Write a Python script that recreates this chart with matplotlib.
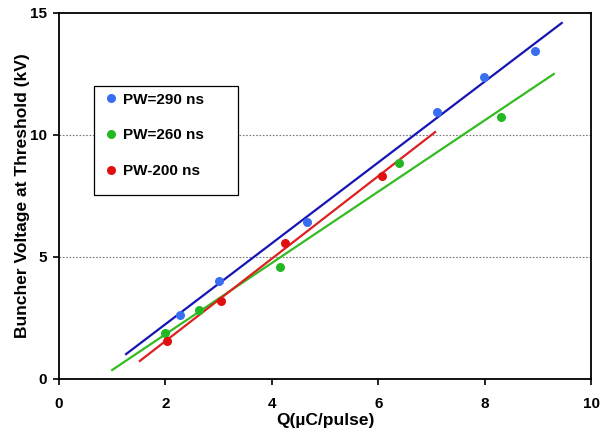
import matplotlib
matplotlib.use("Agg")
import matplotlib.pyplot as plt
from matplotlib.lines import Line2D
from matplotlib.patches import Rectangle

plt.rcParams['font.family'] = ['Liberation Sans', 'DejaVu Sans']
plt.rcParams['font.weight'] = 'bold'

# Data
pw290_x = [2.27, 3.0, 4.66, 7.1, 7.99, 8.95]
pw290_y = [2.62, 4.0, 6.43, 10.94, 12.38, 13.44]
pw260_x = [2.0, 2.63, 4.15, 6.39, 8.31]
pw260_y = [1.89, 2.83, 4.59, 8.85, 10.74]
pw200_x = [2.03, 3.04, 4.25, 6.07]
pw200_y = [1.56, 3.2, 5.57, 8.32]

# Trend line endpoints
fit290_x = [1.26, 9.45]
fit290_y = [1.02, 14.59]
fit260_x = [1.0, 9.3]
fit260_y = [0.37, 12.5]
fit200_x = [1.52, 7.07]
fit200_y = [0.74, 10.12]

labels = ['PW=290 ns', 'PW=260 ns', 'PW-200 ns']
xticks = [0, 2, 4, 6, 8, 10]
yticks = [0, 5, 10, 15]

W, H = 606, 430
fig = plt.figure(figsize=(W/100, H/100), dpi=100)
x0, x1, y0, y1 = 59, 591, 379, 13
ax = fig.add_axes([x0/W, 1-y0/H, (x1-x0)/W, (y0-y1)/H])
aw, ah = x1-x0, y0-y1

for v in [5, 10]:
    ax.axhline(v, color='#777777', linestyle=(0, (1.5, 1.5)), linewidth=0.8, zorder=1)

ax.plot(fit290_x, fit290_y, color='#1515b5', linewidth=1.6, zorder=2)
ax.plot(fit260_x, fit260_y, color='#33bb22', linewidth=1.6, zorder=2)
ax.plot(fit200_x, fit200_y, color='#dd2020', linewidth=1.6, zorder=2)

ms = 6.5
ax.plot(pw290_x, pw290_y, 'o', color='#3a6ef0', markersize=ms, markeredgewidth=0, zorder=3)
ax.plot(pw260_x, pw260_y, 'o', color='#22b822', markersize=ms, markeredgewidth=0, zorder=3)
ax.plot(pw200_x, pw200_y, 'o', color='#e01010', markersize=ms, markeredgewidth=0, zorder=3)

ax.set_xlim(0, 10)
ax.set_ylim(0, 15)
ax.set_xticks(xticks)
ax.set_yticks(yticks)
ax.tick_params(direction='out', length=4.3, width=1.2, labelsize=11)
ax.tick_params(axis='x', pad=9)
ax.tick_params(axis='y', pad=4.5)
for lab in ax.get_xticklabels() + ax.get_yticklabels():
    lab.set_fontweight('bold')
for s in ax.spines.values():
    s.set_linewidth(1.3)
    s.set_color('black')

ax.set_xlabel('Q(\u00b5C/pulse)', fontsize=12.5, fontweight='bold')
ax.set_ylabel('Buncher Voltage at Threshold (kV)', fontsize=12.5, fontweight='bold')
ax.xaxis.set_label_coords(0.5, (y0-413)/ah)
ax.yaxis.set_label_coords((30-x0)/aw, 0.5)

# legend frame
lx0, lx1, ly0, ly1 = 94, 238, 86, 195
rect = Rectangle(((lx0-x0)/aw, (y0-ly1)/ah), (lx1-lx0)/aw, (ly1-ly0)/ah,
                 transform=ax.transAxes, facecolor='white', edgecolor='black',
                 linewidth=0.9, zorder=4)
ax.add_patch(rect)

handles = [
    Line2D([], [], marker='o', linestyle='none', color='#3a6ef0', markersize=ms, markeredgewidth=0),
    Line2D([], [], marker='o', linestyle='none', color='#22b822', markersize=ms, markeredgewidth=0),
    Line2D([], [], marker='o', linestyle='none', color='#e01010', markersize=ms, markeredgewidth=0),
]
leg = ax.legend(handles, labels, loc='upper left',
                bbox_to_anchor=((105-x0)/aw, (y0-92.5)/ah),
                frameon=False, prop={'weight': 'bold', 'size': 11},
                labelspacing=1.43, handlelength=0.8, handletextpad=0.4,
                borderpad=0, borderaxespad=0)
leg.set_zorder(5)

fig.savefig('out.png', dpi=100)
